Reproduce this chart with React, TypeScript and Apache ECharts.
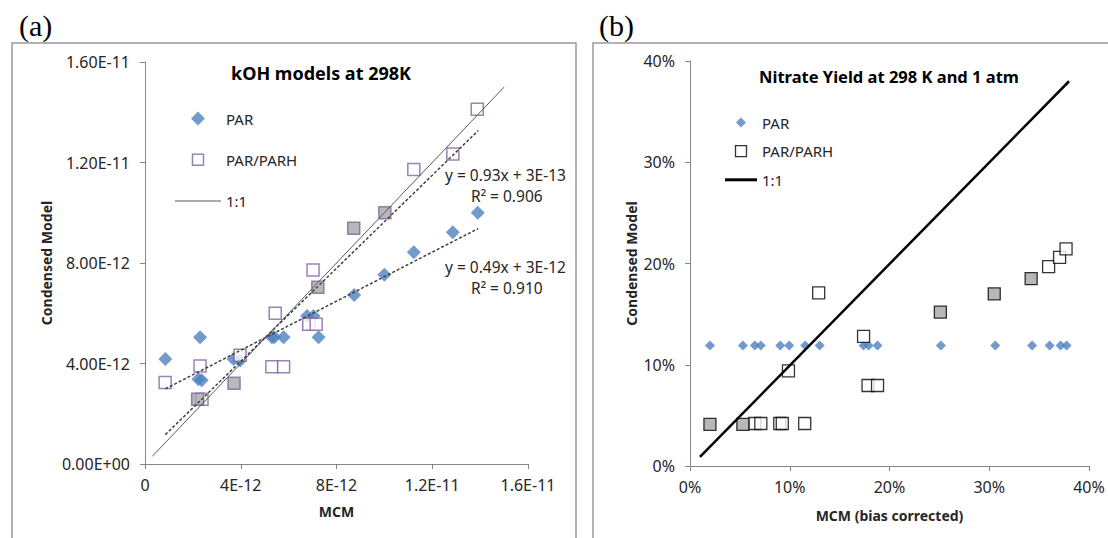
import React, { useEffect, useRef } from 'react';
import * as echarts from 'echarts';

// ---------- Panel (a): kOH, values in units of 1E-12 ----------
const aParX = [0.85, 2.30, 2.23, 2.37, 3.70, 3.97, 5.30, 5.40, 5.79, 6.77, 7.04, 7.25, 8.74, 10.0, 11.23, 12.86, 13.9];
const aParY = [4.18, 5.04, 3.37, 3.33, 4.18, 4.12, 5.04, 5.04, 5.04, 5.89, 5.89, 5.04, 6.73, 7.53, 8.43, 9.22, 10.0];
const aParhOpenX = [0.84, 2.30, 2.38, 3.97, 5.30, 5.79, 5.44, 6.84, 7.15, 7.02, 11.23, 12.86, 13.88];
const aParhOpenY = [3.24, 3.90, 2.58, 4.33, 3.87, 3.87, 6.0, 5.56, 5.56, 7.72, 11.72, 12.34, 14.12];
const aParhFillX = [2.20, 3.72, 7.22, 8.72, 10.02];
const aParhFillY = [2.58, 3.21, 7.03, 9.38, 10.0];
const aOneX = [0.3, 15.0];
const aOneY = [0.3, 15.0];
const aTrendParhX = [0.85, 13.92];
const aTrendParhY = [1.17, 13.27];
const aTrendParX = [0.85, 13.92];
const aTrendParY = [2.99, 9.37];
const aXTickLabels = ['0', '4E-12', '8E-12', '1.2E-11', '1.6E-11'];
const aYTickLabels = ['0.00E+00', '4.00E-12', '8.00E-12', '1.20E-11', '1.60E-11'];

// ---------- Panel (b): nitrate yield, values in % ----------
const bParX = [2.0, 5.3, 6.5, 7.1, 9.05, 9.95, 11.55, 13.0, 17.4, 17.9, 18.8, 25.15, 30.6, 34.3, 36.05, 37.15, 37.75];
const bParY = [11.9, 11.9, 11.9, 11.9, 11.9, 11.9, 11.9, 11.9, 11.9, 11.9, 11.9, 11.9, 11.9, 11.9, 11.9, 11.9, 11.9];
const bParhOpenX = [6.5, 7.1, 9.0, 9.25, 11.5, 12.9, 9.87, 17.4, 17.85, 18.8, 35.95, 37.05, 37.7];
const bParhOpenY = [4.2, 4.2, 4.2, 4.2, 4.2, 17.1, 9.4, 12.8, 7.95, 7.95, 19.7, 20.6, 21.45];
const bParhFillX = [2.0, 5.3, 25.1, 30.5, 34.2];
const bParhFillY = [4.12, 4.12, 15.2, 17.0, 18.5];
const bOneX = [1.0, 38.0];
const bOneY = [0.9, 38.0];
const bTickLabels = ['0%', '10%', '20%', '30%', '40%'];

const zip = (xs: number[], ys: number[]) => xs.map((x, i) => [x, ys[i]]);

const FONT = 'Noto Sans';
const TXT = '#262626';
const BLUE = '#4F81BD';
const PURPLE = '#8064A2';
const GRAY = '#A6A6A6';

function axisBase(labels: string[], step: number, margin: number) {
  return {
    axisLine: { show: true, lineStyle: { color: '#868686', width: 1 } },
    axisTick: { show: true, inside: false, length: 5, lineStyle: { color: '#868686' } },
    splitLine: { show: false },
    axisLabel: {
      color: TXT,
      fontSize: 16,
      fontFamily: FONT,
      margin,
      formatter: (v: number) => labels[Math.round(v / step)] ?? '',
    },
    nameTextStyle: { color: TXT, fontSize: 14, fontWeight: 'bold', fontFamily: FONT },
  };
}

export default function App() {
  const ref = useRef<HTMLDivElement>(null);
  useEffect(() => {
    document.body.style.margin = '0';
    if (!ref.current) return;
    const chart = echarts.init(ref.current, undefined, { renderer: 'svg' });
    const option: any = {
      animation: false,
      backgroundColor: '#fff',
      grid: [
        { left: 145, top: 62, width: 383, height: 402 },
        { left: 690, top: 61, width: 399, height: 405 },
      ],
      title: [
        {
          text: 'kOH models at 298K', left: 316, top: 59, textAlign: 'center',
          textStyle: { fontFamily: FONT, fontSize: 18, fontWeight: 'bold', color: '#000' },
        },
        {
          text: 'Nitrate Yield at 298 K and 1 atm', left: 884, top: 63, textAlign: 'center',
          textStyle: { fontFamily: FONT, fontSize: 16.5, fontWeight: 'bold', color: '#000' },
        },
      ],
      xAxis: [
        {
          ...axisBase(aXTickLabels, 4, 13), type: 'value', gridIndex: 0, min: 0, max: 16, interval: 4,
          name: 'MCM', nameLocation: 'middle', nameGap: 40,
        },
        {
          ...axisBase(bTickLabels, 10, 13), type: 'value', gridIndex: 1, min: 0, max: 40, interval: 10,
          name: 'MCM (bias corrected)', nameLocation: 'middle', nameGap: 42,
        },
      ],
      yAxis: [
        {
          ...axisBase(aYTickLabels, 4, 15), type: 'value', gridIndex: 0, min: 0, max: 16, interval: 4,
          name: 'Condensed Model', nameLocation: 'middle', nameRotate: 90, nameGap: 92,
        },
        {
          ...axisBase(bTickLabels, 10, 15), type: 'value', gridIndex: 1, min: 0, max: 40, interval: 10,
          name: 'Condensed Model', nameLocation: 'middle', nameRotate: 90, nameGap: 52,
        },
      ],
      legend: [
        {
          orient: 'vertical', left: 170, top: 106, itemWidth: 46, itemHeight: 14, itemGap: 26,
          symbolKeepAspect: true,
          data: [
            { name: 'PAR', icon: 'path://M7,0L14,7L7,14L0,7Z' },
            { name: 'PAR/PARH', icon: 'path://M0,0M14,14M1.5,1.5L12.5,1.5L12.5,12.5L1.5,12.5Z', itemStyle: { borderWidth: 1.5 } },
            { name: '1:1', icon: 'path://M0,0L46,0L46,1.2L0,1.2Z' },
          ],
          textStyle: { fontFamily: FONT, fontSize: 15, color: TXT },
          selectedMode: false,
        },
        {
          orient: 'vertical', left: 720, top: 110, itemWidth: 32, itemHeight: 14, itemGap: 13.5,
          symbolKeepAspect: true,
          data: [
            { name: 'PAR ', icon: 'path://M0,0M14,14M2,7L7,2L12,7L7,12Z' },
            { name: 'PAR/PARH ', icon: 'path://M0,0M14,14M1.5,1.5L12.5,1.5L12.5,12.5L1.5,12.5Z', itemStyle: { borderWidth: 1.3 } },
            { name: '1:1 ', icon: 'path://M0,0L32,0L32,3L0,3Z' },
          ],
          formatter: (n: string) => n.trim(),
          textStyle: { fontFamily: FONT, fontSize: 15, color: TXT },
          selectedMode: false,
        },
      ],
      graphic: [
        { type: 'rect', shape: { x: 12, y: 43, width: 564, height: 520 }, style: { fill: 'none', stroke: '#9a9a9a', lineWidth: 1.5 }, z: -1 },
        { type: 'rect', shape: { x: 593, y: 43, width: 530, height: 520 }, style: { fill: 'none', stroke: '#9a9a9a', lineWidth: 1.5 }, z: -1 },
        { type: 'text', x: 19, y: 25, style: { text: '(a)', font: '30px "Liberation Serif"', fill: '#000', verticalAlign: 'middle' } },
        { type: 'text', x: 599, y: 25, style: { text: '(b)', font: '30px "Liberation Serif"', fill: '#000', verticalAlign: 'middle' } },
        { type: 'text', x: 445, y: 175, style: { text: 'y = 0.93x + 3E-13', font: `15.5px "${FONT}"`, fill: TXT, verticalAlign: 'middle' } },
        { type: 'text', x: 471, y: 196, style: { text: 'R² = 0.906', font: `15.5px "${FONT}"`, fill: TXT, verticalAlign: 'middle' } },
        { type: 'text', x: 445, y: 267, style: { text: 'y = 0.49x + 3E-12', font: `15.5px "${FONT}"`, fill: TXT, verticalAlign: 'middle' } },
        { type: 'text', x: 471, y: 288, style: { text: 'R² = 0.910', font: `15.5px "${FONT}"`, fill: TXT, verticalAlign: 'middle' } },
      ],
      series: [
        // ---- panel (a)
        {
          name: 'PAR', type: 'scatter', xAxisIndex: 0, yAxisIndex: 0, symbol: 'diamond', symbolSize: 14,
          itemStyle: { color: BLUE }, data: zip(aParX, aParY), z: 2,
        },
        {
          name: 'PAR/PARH', type: 'scatter', xAxisIndex: 0, yAxisIndex: 0, symbol: 'rect', symbolSize: 12,
          itemStyle: { color: '#fff', borderColor: PURPLE, borderWidth: 1.5 }, data: zip(aParhOpenX, aParhOpenY), z: 3,
        },
        {
          name: 'PAR/PARH shaded a', type: 'scatter', xAxisIndex: 0, yAxisIndex: 0, symbol: 'rect', symbolSize: 12,
          itemStyle: { color: GRAY, borderColor: PURPLE, borderWidth: 1.5 }, data: zip(aParhFillX, aParhFillY), z: 3,
        },
        {
          name: '1:1', type: 'line', xAxisIndex: 0, yAxisIndex: 0, symbol: 'none',
          itemStyle: { color: '#595959' },
          lineStyle: { color: '#595959', width: 1 }, data: zip(aOneX, aOneY), z: 4,
        },
        {
          name: 'trend PAR/PARH', type: 'line', xAxisIndex: 0, yAxisIndex: 0, symbol: 'none',
          lineStyle: { color: '#404040', width: 1.5, type: [3, 2] }, data: zip(aTrendParhX, aTrendParhY), z: 4,
        },
        {
          name: 'trend PAR', type: 'line', xAxisIndex: 0, yAxisIndex: 0, symbol: 'none',
          lineStyle: { color: '#404040', width: 1.5, type: [3, 2] }, data: zip(aTrendParX, aTrendParY), z: 4,
        },
        // ---- panel (b)
        {
          name: 'PAR ', type: 'scatter', xAxisIndex: 1, yAxisIndex: 1, symbol: 'diamond', symbolSize: 10,
          itemStyle: { color: BLUE }, data: zip(bParX, bParY), z: 2,
        },
        {
          name: 'PAR/PARH ', type: 'scatter', xAxisIndex: 1, yAxisIndex: 1, symbol: 'rect', symbolSize: 12,
          itemStyle: { color: '#fff', borderColor: '#000', borderWidth: 1.3 }, data: zip(bParhOpenX, bParhOpenY), z: 3,
        },
        {
          name: 'PAR/PARH shaded b', type: 'scatter', xAxisIndex: 1, yAxisIndex: 1, symbol: 'rect', symbolSize: 12,
          itemStyle: { color: GRAY, borderColor: '#000', borderWidth: 1.3 }, data: zip(bParhFillX, bParhFillY), z: 3,
        },
        {
          name: '1:1 ', type: 'line', xAxisIndex: 1, yAxisIndex: 1, symbol: 'none',
          itemStyle: { color: '#000' },
          lineStyle: { color: '#000', width: 2.5 }, data: zip(bOneX, bOneY), z: 4,
        },
      ],
    };
    chart.setOption(option);
    return () => chart.dispose();
  }, []);
  return <div ref={ref} style={{ width: 1108, height: 538 }} />;
}
